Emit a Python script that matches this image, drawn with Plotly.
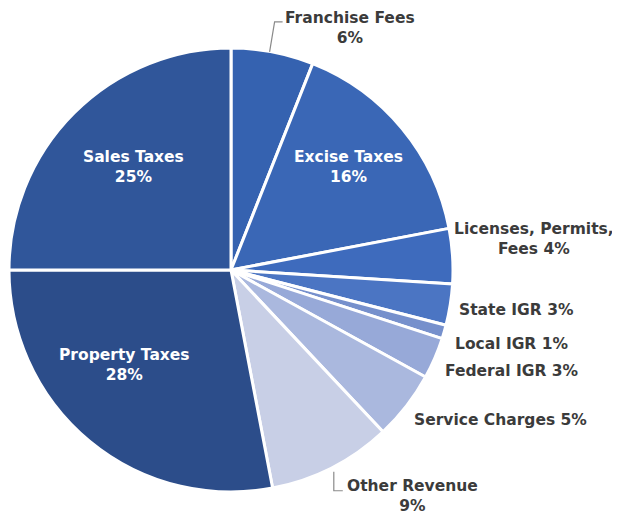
import math
import plotly.graph_objects as go

# Revenue shares (percent), clockwise from 12 o'clock
labels = ["Franchise Fees", "Excise Taxes", "Licenses, Permits, Fees", "State IGR",
          "Local IGR", "Federal IGR", "Service Charges", "Other Revenue",
          "Property Taxes", "Sales Taxes"]
values = [6, 16, 4, 3, 1, 3, 5, 9, 28, 25]
colors = ["#3562b0", "#3a67b6", "#3e6bbd", "#4b75c3", "#7690cc", "#97a9d8",
          "#aab8de", "#c8cfe6", "#2c4d8a", "#30569a"]

# page body has an 8px margin, so the figure is a bit smaller than the window
OFF = 8
W, H = 620 - OFF, 516 - OFF
CX, CY, R = 231, 270, 222   # pie centre / radius in window pixels


def px(x):
    return (x - OFF) / W


def py(y):
    return 1 - (y - OFF) / H


fig = go.Figure()
fig.add_trace(go.Pie(
    labels=labels,
    values=values,
    sort=False,
    direction="clockwise",
    rotation=0,
    marker=dict(colors=colors, line=dict(color="white", width=3)),
    textinfo="none",
    hoverinfo="label+percent",
    showlegend=False,
    domain=dict(x=[px(CX - R), px(CX + R)], y=[py(CY + R), py(CY - R)]),
))

# mid angle of each slice (degrees clockwise from top)
total = sum(values)
mids = {}
acc = 0
for lab, v in zip(labels, values):
    mids[lab] = (acc + v / 2) / total * 360
    acc += v


def edge(lab, k=1.0):
    a = math.radians(mids[lab])
    return CX + R * k * math.sin(a), CY - R * k * math.cos(a)


white = dict(family="DejaVu Sans", size=15.5, color="white", weight="bold")
dark = dict(family="DejaVu Sans", size=15.5, color="#3b3b3b", weight="bold")

texts = [
    ("Sales Taxes<br>25%", 133, 167, "center", white),
    ("Excise Taxes<br>16%", 348, 167, "center", white),
    ("Property Taxes<br>28%", 125, 365, "center", white),
    ("Franchise Fees<br>6%", 350, 28, "center", dark),
    ("Licenses, Permits,<br>Fees 4%", 534, 239, "center", dark),
    ("State IGR 3%", 457, 310, "left", dark),
    ("Local IGR 1%", 453, 344, "left", dark),
    ("Federal IGR 3%", 443, 371, "left", dark),
    ("Service Charges 5%", 412, 420, "left", dark),
    ("Other Revenue<br>9%", 412, 496, "center", dark),
]
for t, x, y, anchor, f in texts:
    fig.add_annotation(text=t, x=px(x), y=py(y), xref="paper", yref="paper",
                       xanchor=anchor, yanchor="middle", align="center",
                       showarrow=False, font=f)

# leader lines
grey = dict(color="#8a8a8a", width=1.2)
ex, ey = edge("Franchise Fees", 1.0)
fig.add_shape(type="path", xref="paper", yref="paper", line=grey,
              path=f"M {px(ex - 3)},{py(ey)} L {px(ex + 2)},{py(ey - 30)} L {px(ex + 10)},{py(ey - 30)}")
ex, ey = edge("Other Revenue", 1.02)
fig.add_shape(type="path", xref="paper", yref="paper", line=grey,
              path=f"M {px(ex)},{py(ey)} L {px(ex)},{py(ey + 19)} L {px(ex + 9)},{py(ey + 19)}")

fig.update_layout(
    width=W, height=H,
    margin=dict(l=0, r=0, t=0, b=0),
    paper_bgcolor="white",
    plot_bgcolor="white",
)

fig.write_html("out.html")
